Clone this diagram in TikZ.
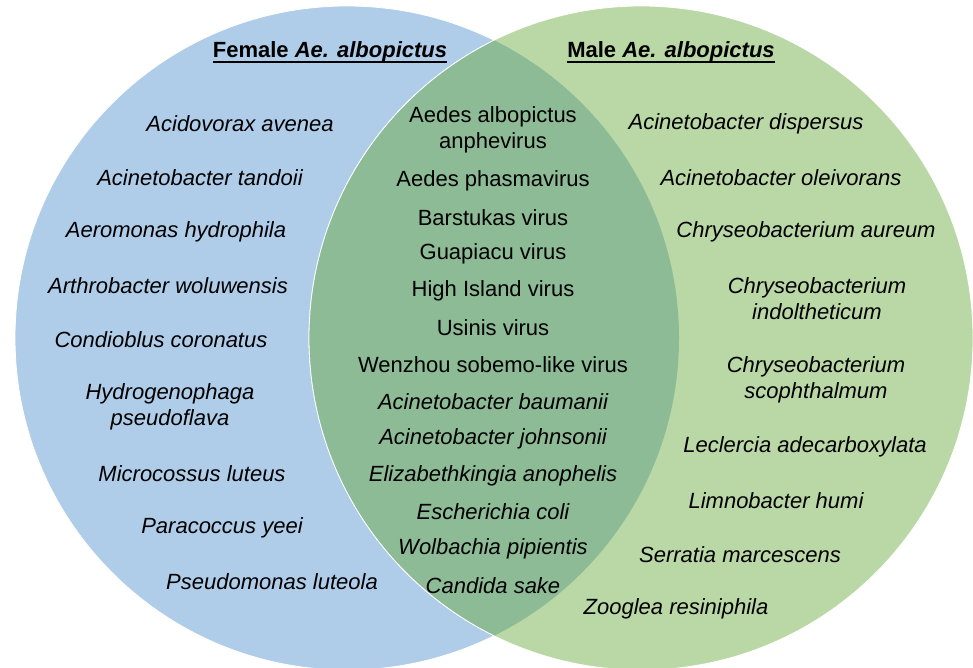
\documentclass[tikz,border=0pt]{standalone}
\usepackage{fontspec}
\setmainfont{Liberation Sans}
\usepackage{tikz}
\usetikzlibrary{positioning}

\definecolor{femaleblue}{RGB}{175,205,233}
\definecolor{malegreen}{RGB}{186,215,166}
\definecolor{bothgreen}{RGB}{141,187,150}

\begin{document}
\begin{tikzpicture}[
      x=1pt, y=-1pt,
      font=\fontsize{22}{26}\selectfont,
      every node/.style={inner sep=0pt, align=center},
      species/.style={font=\fontsize{22}{26}\selectfont\itshape},
      virus/.style={font=\fontsize{22}{26}\selectfont},
      header/.style={font=\fontsize{22}{26}\selectfont\bfseries},
      rule/.style={line width=1.7pt}
  ]
      \useasboundingbox (0,0) rectangle (973,668);

      % Sets
      \fill[femaleblue, draw=white, line width=0.8pt] (347,338) circle[radius=332];
      \fill[malegreen, draw=white, line width=0.8pt] (641,338) circle[radius=332];
      \begin{scope}
        \clip (347,338) circle[radius=332];
        \fill[bothgreen, draw=white, line width=0.8pt] (641,338) circle[radius=332];
      \end{scope}

      % Headers
      \node[header] (female) at (330,52) {Female \textit{Ae. albopictus}};
      \node[header] (male) at (671,52) {Male \textit{Ae. albopictus}};
      \draw[rule] ([yshift=-4pt]female.base west) -- ([yshift=-4pt]female.base east);
      \draw[rule] ([yshift=-4pt]male.base west) -- ([yshift=-4pt]male.base east);

      % Female only
      \node[species] (f1) at (240,124) {Acidovorax avenea};
      \node[species] (f2) at (200,178) {Acinetobacter tandoii};
      \node[species] (f3) at (176,232) {Aeromonas hydrophila};
      \node[species] (f4) at (168,286) {Arthrobacter woluwensis};
      \node[species] (f5) at (161,340) {Condioblus coronatus};
      \node[species] (f6) at (170,407) {Hydrogenophaga\\pseudoflava};
      \node[species] (f7) at (192,474) {Microcossus luteus};
      \node[species] (f8) at (222,528) {Paracoccus yeei};
      \node[species] (f9) at (272,582) {Pseudomonas luteola};

      % Shared
      \node[virus] (s1) at (493,130) {Aedes albopictus\\anphevirus};
      \node[virus] (s2) at (493,181) {Aedes phasmavirus};
      \node[virus] (s3) at (493,218) {Barstukas virus};
      \node[virus] (s4) at (493,254) {Guapiacu virus};
      \node[virus] (s5) at (493,291) {High Island virus};
      \node[virus] (s6) at (493,328) {Usinis virus};
      \node[virus] (s7) at (493,365) {Wenzhou sobemo-like virus};
      \node[species] (s8) at (493,402) {Acinetobacter baumanii};
      \node[species] (s9) at (493,439) {Acinetobacter johnsonii};
      \node[species] (s10) at (493,476) {Elizabethkingia anophelis};
      \node[species] (s11) at (493,512) {Escherichia coli};
      \node[species] (s12) at (493,549) {Wolbachia pipientis};
      \node[species] (s13) at (493,586) {Candida sake};

      % Male only
      \node[species] (m1) at (746,124) {Acinetobacter dispersus};
      \node[species] (m2) at (781,178) {Acinetobacter oleivorans};
      \node[species] (m3) at (806,232) {Chryseobacterium aureum};
      \node[species] (m4) at (817,299) {Chryseobacterium\\indoltheticum};
      \node[species] (m5) at (816,380) {Chryseobacterium\\scophthalmum};
      \node[species] (m6) at (805,447) {Leclercia adecarboxylata};
      \node[species] (m7) at (776,501) {Limnobacter humi};
      \node[species] (m8) at (740,555) {Serratia marcescens};
      \node[species] (m9) at (676,609) {Zooglea resiniphila};
  \end{tikzpicture}
\end{document}
